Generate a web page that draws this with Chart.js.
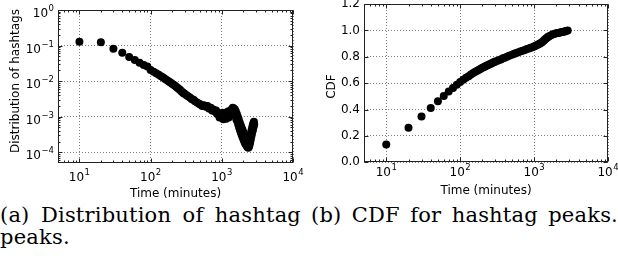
<!DOCTYPE html>
<html><head><meta charset="utf-8">
<script src="https://cdn.jsdelivr.net/npm/chart.js@4/dist/chart.umd.min.js"></script>
<style>
html,body{margin:0;padding:0;background:#fff;width:618px;height:266px;overflow:hidden}
body{position:relative}
canvas{position:absolute;top:0}
#c1{left:0}
#c2{left:310px}
.cap{position:absolute;font-family:"DejaVu Serif",serif;font-size:21px;line-height:22px;letter-spacing:0.2px;color:#000;white-space:nowrap}
.just{white-space:normal;text-align:justify;text-align-last:justify}
</style></head><body>
<canvas id="c1" width="310" height="200"></canvas>
<canvas id="c2" width="308" height="200"></canvas>
<div class="cap just" style="left:0;top:204px;width:301px">(a) Distribution of hashtag</div>
<div class="cap" style="left:0;top:226px">peaks.</div>
<div class="cap just" style="left:311px;top:204px;width:307px">(b) CDF for hashtag peaks.</div>
<script>
// ---------- data ----------
const distMinutes = [10,20,30,40,50,60,70,80,90,
  100,110,120,130,140,150,160,170,180,190,200,210,220,230,240,250,260,270,280,290,300,
  320,340,360,380,400,420,450,480,500,530,560,600,630,660,700,730,760,800,830,860,900,930,960,
  1000,1025,1050,1075,1100,1125,1150,1175,1200,1225,1250,1275,1300,1325,1350,1375,1400,1425,1450,1475,1500,1525,1550,1575,
  1600,1625,1650,1675,1700,1725,1750,1775,1800,1825,1850,1875,1900,1925,1950,1975,2000,2025,2050,2075,2100,2125,2150,2175,
  2200,2225,2250,2275,2300,2325,2350,2375,2400,2425,2450,2475,2500,2525,2550,2575,2600,2625,2650,2675,2700,2725,2750,2775,
  2800,2825,2850];
const distShare = [0.129,0.124,0.082,0.063,0.048,0.039,0.033,0.0285,0.0256,
  0.0205,0.0185,0.0168,0.0152,0.0138,0.0127,0.0115,0.0106,0.0098,0.0091,0.0085,0.0079,0.0074,0.0068,0.0064,0.006,0.0056,0.0052,0.0049,0.0046,0.0044,
  0.0040,0.0037,0.0034,0.0031,0.0030,0.0027,0.0025,0.0023,0.0022,0.0020,0.0021,0.0019,0.0020,0.0017,0.0018,0.0015,0.0016,0.0014,0.0015,0.0012,0.00128,0.00095,0.00115,
  0.0010,0.0013,0.00085,0.0012,0.00095,0.0013,0.00088,0.0012,0.0010,0.0014,0.00095,0.0013,0.0011,0.0015,0.0012,0.0016,0.0013,0.0018,0.0014,0.0017,0.0012,0.0016,0.0011,0.0014,
  0.00085,0.0012,0.00075,0.0010,0.0006,0.00085,0.0005,0.0007,0.00042,0.0006,0.00036,0.00052,0.00031,0.00045,0.00027,0.0004,0.00024,0.00035,0.00021,0.00031,0.00019,0.00028,0.00017,0.00025,
  0.00016,0.00023,0.00015,0.00021,0.00014,0.0002,0.000135,0.00019,0.00014,0.00021,0.00016,0.00025,0.00019,0.0003,0.00023,0.00036,0.00028,0.00042,0.00033,0.0005,0.00039,0.00058,0.00046,0.00066,
  0.00053,0.00072,0.0006];

const cdfMinutes = [10,20,30,40,50,60,70,80,90,
  100,110,120,130,140,150,160,170,180,190,200,210,220,230,240,250,260,270,280,290,300,
  320,340,360,380,400,430,460,500,530,560,600,650,700,750,800,850,900,950,
  1000,1050,1100,1150,1200,1250,1300,1350,1400,1450,1500,1550,1600,1700,1800,1900,2000,2100,2200,2300,2400,2500,2600,2700,2850];
const cdfValues = [0.135,0.262,0.348,0.412,0.462,0.503,0.536,0.564,0.588,
  0.608,0.625,0.640,0.653,0.665,0.676,0.686,0.694,0.702,0.709,0.716,0.722,0.728,0.733,0.738,0.743,0.748,0.752,0.756,0.760,0.764,
  0.770,0.776,0.782,0.788,0.793,0.800,0.807,0.815,0.821,0.826,0.832,0.839,0.846,0.852,0.858,0.863,0.868,0.873,
  0.878,0.883,0.889,0.894,0.900,0.907,0.914,0.922,0.930,0.938,0.945,0.951,0.956,0.964,0.970,0.975,0.978,0.981,0.983,0.985,0.987,0.989,0.992,0.995,1.0];

const timeTickValues = [10,100,1000,10000];
const timeTickLabels = [['10','1'],['10','2'],['10','3'],['10','4']];
const distTickValues = [1e-4,1e-3,1e-2,1e-1,1];
const distTickLabels = [['10','\u22124'],['10','\u22123'],['10','\u22122'],['10','\u22121'],['10','0']];
const cdfTickValues = [0,0.2,0.4,0.6,0.8,1.0,1.2];
const cdfTickLabels = ['0.0','0.2','0.4','0.6','0.8','1.0','1.2'];

// ---------- helpers ----------
const FONT = '"DejaVu Sans", sans-serif';
Chart.defaults.color = '#000';
Chart.defaults.font.family = FONT;
Chart.defaults.font.size = 12;

function minorLog(min, max){
  const out = [];
  for (let k = Math.floor(Math.log10(min)); k <= Math.ceil(Math.log10(max)); k++){
    for (let m = 2; m <= 9; m++){ const v = m*Math.pow(10,k); if (v > min && v < max) out.push(v); }
  }
  return out;
}

function drawPow(ctx, pair, x, baseY, align){
  ctx.font = '12px ' + FONT; const wb = ctx.measureText(pair[0]).width;
  ctx.font = '8.5px ' + FONT; const we = ctx.measureText(pair[1]).width;
  const w = wb + we + 0.5;
  const x0 = align === 'center' ? x - w/2 : x - w;
  ctx.textAlign = 'left'; ctx.textBaseline = 'alphabetic';
  ctx.font = '12px ' + FONT; ctx.fillText(pair[0], x0, baseY);
  ctx.font = '8.5px ' + FONT; ctx.fillText(pair[1], x0 + wb + 0.5, baseY - 6);
}

function framePlugin(o){
  return {
    id: 'frameTicks',
    afterDraw(chart){
      const {ctx, chartArea:a, scales:{x, y}} = chart;
      const L = Math.round(a.left)+0.5, R = Math.round(a.right)-0.5, T = Math.round(a.top)+0.5, B = Math.round(a.bottom)-0.5;
      ctx.save();
      ctx.strokeStyle = '#222'; ctx.lineWidth = 1;
      ctx.beginPath();
      const xt = (v, len) => { const p = Math.round(x.getPixelForValue(v))+0.5; ctx.moveTo(p, B); ctx.lineTo(p, B-len); ctx.moveTo(p, T); ctx.lineTo(p, T+len); };
      const yt = (v, len) => { const p = Math.round(y.getPixelForValue(v))+0.5; ctx.moveTo(L, p); ctx.lineTo(L+len, p); ctx.moveTo(R, p); ctx.lineTo(R-len, p); };
      timeTickValues.forEach(v => xt(v, 4));
      minorLog(x.min, x.max).forEach(v => xt(v, 2));
      if (y.type === 'logarithmic'){
        distTickValues.forEach(v => yt(v, 4));
        minorLog(y.min, y.max).forEach(v => yt(v, 2));
      } else {
        cdfTickValues.forEach(v => yt(v, 4));
      }
      ctx.stroke();
      ctx.strokeRect(L, T, R-L, B-T);

      // tick labels
      ctx.fillStyle = '#000';
      timeTickValues.forEach((v, i) => drawPow(ctx, timeTickLabels[i], x.getPixelForValue(v), o.xLabelBase, 'center'));
      if (y.type === 'logarithmic'){
        distTickValues.forEach((v, i) => drawPow(ctx, distTickLabels[i], a.left - 4, y.getPixelForValue(v) + 7, 'right'));
      } else {
        ctx.font = '12px ' + FONT; ctx.textAlign = 'right'; ctx.textBaseline = 'middle';
        cdfTickValues.forEach((v, i) => ctx.fillText(cdfTickLabels[i], a.left - 4, y.getPixelForValue(v)));
      }
      // axis titles
      ctx.font = '12px ' + FONT; ctx.textAlign = 'center'; ctx.textBaseline = 'middle';
      ctx.fillText(o.xTitle, (a.left + a.right)/2, o.xTitleY);
      ctx.save();
      ctx.translate(o.yTitleX, o.yTitleY); ctx.rotate(-Math.PI/2);
      ctx.fillText(o.yTitle, 0, 0);
      ctx.restore();
      ctx.restore();
    }
  };
}

function gridOpts(){ return { color: 'rgba(0,0,0,0.5)', lineWidth: 1, drawTicks: false }; }
function borderOpts(){ return { display: false, dash: [1,2] }; }

function makeChart(id, o){
  return new Chart(document.getElementById(id), {
    type: 'scatter',
    data: { datasets: [{
      data: o.xs.map((v,i) => ({x: v, y: o.ys[i]})),
      backgroundColor: '#000', borderWidth: 0, pointRadius: 4, pointHoverRadius: 4
    }]},
    options: {
      responsive: false, animation: false, devicePixelRatio: 1,
      layout: { padding: o.pad },
      plugins: { legend: {display:false}, tooltip: {enabled:false} },
      events: [],
      scales: {
        x: {
          type: 'logarithmic', min: 5, max: 10000,
          grid: gridOpts(), border: borderOpts(),
          afterBuildTicks: s => { s.ticks = timeTickValues.map(v => ({value: v})); },
          ticks: { display: false },
          afterFit: s => { s.height = o.xH; s.paddingLeft = 0; s.paddingRight = 0; }
        },
        y: Object.assign({
          grid: gridOpts(), border: borderOpts(),
          ticks: { display: false },
          afterFit: s => { s.width = o.yW; s.paddingTop = 0; s.paddingBottom = 0; }
        }, o.yScale)
      }
    },
    plugins: [framePlugin(o)]
  });
}

makeChart('c1', {
  xs: distMinutes, ys: distShare,
  pad: {top: 10, right: 17, bottom: 0, left: 0},
  xH: 37, yW: 58,
  xLabelBase: 181, xTitle: 'Time (minutes)', xTitleY: 193.5,
  yTitle: 'Distribution of hashtags', yTitleX: 16, yTitleY: 81,
  yScale: {
    type: 'logarithmic', min: 5e-5, max: 1,
    afterBuildTicks: s => { s.ticks = distTickValues.map(v => ({value: v})); }
  }
});

makeChart('c2', {
  xs: cdfMinutes, ys: cdfValues,
  pad: {top: 2.5, right: 10, bottom: 0, left: 0},
  xH: 37.7, yW: 54,
  xLabelBase: 175.5, xTitle: 'Time (minutes)', xTitleY: 190.5,
  yTitle: 'CDF', yTitleX: 22, yTitleY: 86.5,
  yScale: {
    type: 'linear', min: 0, max: 1.2,
    afterBuildTicks: s => { s.ticks = cdfTickValues.map(v => ({value: v})); }
  }
});
</script>
</body></html>
